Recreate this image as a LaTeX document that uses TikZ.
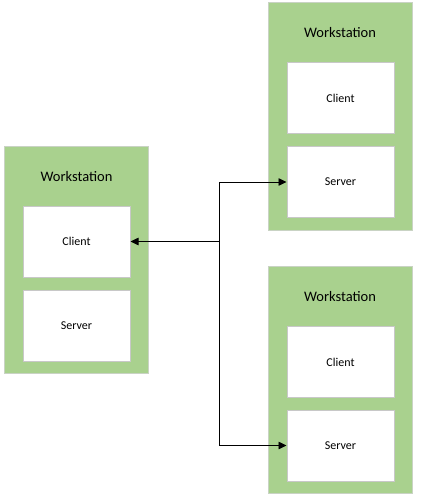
\documentclass[tikz,border=0pt]{standalone}
\usepackage{fontspec}
\setmainfont{Carlito}
\usepackage{tikz}
\usetikzlibrary{arrows.meta,positioning}

\definecolor{wsgreen}{HTML}{A9D18E}
\definecolor{wsedge}{HTML}{C9D3C4}
\definecolor{boxedge}{HTML}{C8C8C8}

\begin{document}
\begin{tikzpicture}[
  x=1pt,y=-1pt,
  >={Triangle[length=8pt,width=7.5pt]},
  station/.style={rectangle,draw=wsedge,fill=wsgreen,line width=1pt,
    minimum width=144pt,minimum height=227pt,inner sep=0pt},
  title/.style={font=\fontsize{14.5}{16}\selectfont},
  role/.style={rectangle,draw=boxedge,fill=white,line width=1pt,
    minimum width=107pt,minimum height=71pt,inner sep=0pt,
    font=\fontsize{12}{14}\selectfont},
  link/.style={->,line width=0.8pt}
]
  \useasboundingbox (0,0) rectangle (420,500);

  % left workstation
  \node[station] (wsA) at (76.5,260) {};
  \node[title] (wsAtitle) at (76.5,177) {Workstation};
  \node[role] (wsAclient) at (76.5,241.5) {Client};
  \node[role] (wsAserver) at (76.5,325.5) {Server};

  % top right workstation
  \node[station] (wsB) at (340,116.5) {};
  \node[title] (wsBtitle) at (340,33) {Workstation};
  \node[role] (wsBclient) at (340.5,98) {Client};
  \node[role] (wsBserver) at (340.5,182) {Server};

  % bottom right workstation
  \node[station] (wsC) at (340,380) {};
  \node[title] (wsCtitle) at (340,297) {Workstation};
  \node[role] (wsCclient) at (340.5,362) {Client};
  \node[role] (wsCserver) at (340.5,445.5) {Server};

  \coordinate (hub) at (219,241.5);
  \draw[link] (hub) -- (wsAclient.east);
  \draw[link] (hub) |- (wsBserver.west);
  \draw[link] (hub) |- (wsCserver.west);
\end{tikzpicture}
\end{document}
